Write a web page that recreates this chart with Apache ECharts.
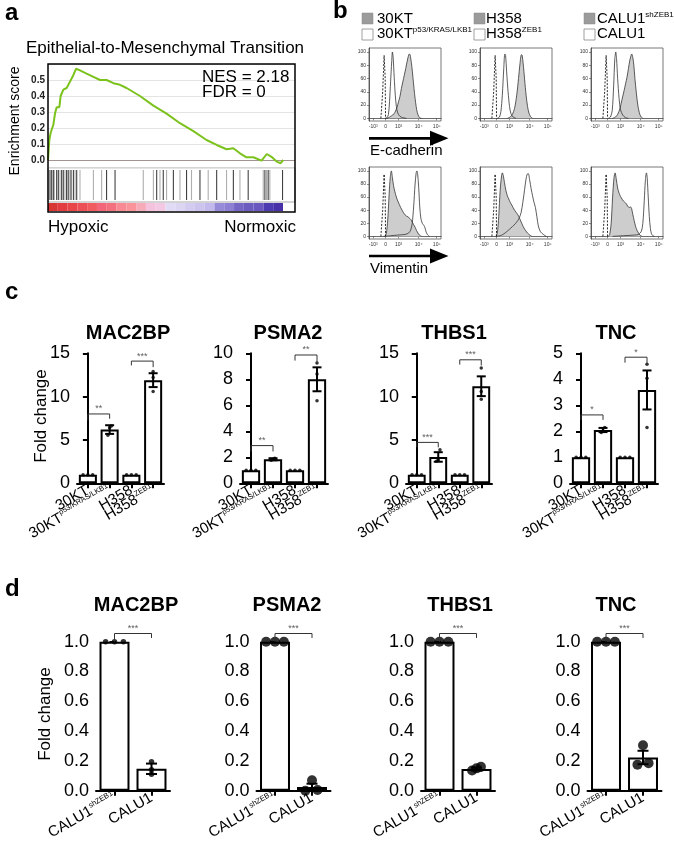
<!DOCTYPE html>
<html>
<head>
<meta charset="utf-8">
<title>EMT figure</title>
<script src="https://cdn.jsdelivr.net/npm/echarts@6.0.0/dist/echarts.min.js"></script>
<style>
html,body{margin:0;padding:0;background:#ffffff;}
#chart{width:674px;height:849px;}
</style>
</head>
<body>
<div id="chart"></div>
<script>
// ================= Panel a : GSEA enrichment plot =================
const esRank  = [0,0.57,1.13,2.27,2.97,3.68,4.82,5.38,6.52,7.93,9.35,10.76,11.9,13.6,16.4,19.3,22.1,24.9,27.8,30.6,33.4,39.1,44.8,50.4,56.1,61.8,67.4,71.7,75.9,78.8,81.6,84.4,87.3,90.8,93.0,95.0,97.2,98.9,100];
const esScore = [0,0.125,0.17,0.22,0.29,0.33,0.33,0.40,0.44,0.45,0.49,0.53,0.57,0.56,0.54,0.52,0.50,0.50,0.48,0.47,0.45,0.40,0.34,0.29,0.23,0.18,0.125,0.094,0.067,0.073,0.042,0.017,0.017,-0.004,0.0375,0.02,-0.01,-0.02,0.0];
const esTickValues = [0, 0.1, 0.2, 0.3, 0.4, 0.5];
const hitsBlack = [0.85,1.56,2.27,3.68,4.39,5.8,6.5,7.9,8.6,9.8,10.8,12.2,24.9,28.5,46.2,49.0,53.3,58.9,64.6,71.7,78.8,85.1,92.2,93.6,99.7];
const hitsGrey  = [2.69,5.1,7.2,9.3,11.5,13.6,19.3,22.8,40.5,44.8,47.6,50.4,56.1,61.0,68.1,75.9,81.6,91.5,92.9,94.3];
const colorBarColors = ['#d83535','#e23c40','#e84549','#ec4f55','#f05b60','#f3667a','#f3707f','#f78a92','#f8949a','#f7aab8','#f5c2de','#f3c8e3','#e2dbf5','#ddd6f3','#d3cbf0','#cdc4ee','#c3b9ec','#958bd9','#8d80d4','#7565c4','#6d5cc0','#6a57bf','#4c3bb0','#4830a8'];

// ================= Panel b : flow cytometry histograms =================
const histXTickValues = [6, 23, 41, 69, 94];
const histXTickLabels = ['-10³', '0', '10³', '10⁴', '10⁵'];
const histYTickValues = [0, 20, 40, 60, 80, 100];
const isotypeCtrl  = [[16.5,0],[19,40],[21,95],[22,97],[22.5,60],[23,0]];
const ecad30ktFill = [[24,0],[27,1],[30,3],[33,5],[36,9],[39,17],[41,25],[43,33],[45,45],[47,55],[49,65],[51,75],[53,86],[54.5,93],[56,97],[57,96],[58,90],[59.5,78],[61,62],[62.5,45],[64,30],[65.5,18],[67,9],[69,3],[71,0.5],[73,0]];
const ecad30ktOpen = [[22,0],[25,1],[27,6],[28.5,25],[30,55],[31.5,85],[32.5,100],[33.5,92],[35,62],[36.5,35],[38,18],[40,8],[43,3],[47,1],[52,0]];
const ecadH358Fill = [[38,0],[42,2],[45,6],[48,15],[51,35],[53.5,60],[55.5,82],[57.5,96],[58.5,95],[60,82],[62,58],[64,35],[66,18],[68,8],[70,3],[73,0]];
const ecadH358Open = [[24,0],[27,2],[29,10],[31,35],[33,75],[34.5,97],[35.5,95],[37,70],[39,40],[41,18],[43,7],[46,2],[50,0]];
const ecadCaluFill = [[30,0],[34,2],[37,6],[40,14],[43,28],[46,42],[48,52],[50,62],[52,75],[54,88],[55.5,94],[56.5,97],[58,92],[59.5,80],[61,60],[63,38],[65,20],[67,9],[69,3],[72,0]];
const ecadCaluOpen = [[24,0],[27,2],[29.5,12],[31.5,50],[33,88],[34.4,100],[35.5,90],[37,60],[39,30],[41,13],[44,5],[48,1],[52,0]];
const vim30ktFill  = [[22,0],[24,4],[26,25],[28,65],[29.5,90],[31,100],[32.5,90],[34,78],[36,68],[38,60],[40,54],[42,49],[44,44],[46,40],[48,36],[50,33],[52,31],[54,30],[56,28],[58,26],[60,22],[62,18],[64,14],[66,9],[68,5],[70,2],[73,0]];
const vim30ktOpen  = [[20,0],[30,1],[40,2],[50,3],[55,5],[58,10],[60,20],[62,45],[64,80],[65.5,97],[66.5,100],[67.5,96],[69,75],[70.5,45],[72,28],[74,20],[76,17],[77.5,14],[79,8],[81,3],[84,0]];
const vimH358Fill  = [[22,0],[24,5],[26,30],[28,70],[30,93],[31,97],[32.5,92],[34,82],[36,70],[38,62],[40,57],[42,52],[44,48],[46,44],[48,40],[50,37],[52,34],[54,30],[56,25],[58,20],[60,15],[62,11],[64,8],[66,5],[68,3],[72,0]];
const vimH358Open  = [[22,0],[28,1],[32,3],[38,8],[43,13],[47,17],[51,22],[54,27],[57,36],[59.5,52],[62,72],[64,88],[65.5,95],[67,96],[69,86],[71,73],[73,62],[75,52],[77,44],[79,30],[81,16],[84,7],[88,3],[92,0]];
const vimCaluFill  = [[24,0],[26,3],[28,20],[30,60],[32,90],[33.5,97],[35,88],[37,74],[39,66],[41,61],[43,57],[45,54],[47,52],[49,50],[51,46],[53,44],[55,45],[56.5,42],[58,34],[60,24],[62,15],[64,9],[66,5],[68,2],[71,0]];
const vimCaluOpen  = [[30,0],[45,1],[60,2],[66,3],[70,8],[72,20],[74,55],[75.5,85],[77,97],[78,90],[79.5,60],[81,30],[82.5,12],[84,4],[86,1],[88,0]];

// ================= Panel c : fold change, 4 groups =================
const cCategories = ['30KT', '30KT p53/KRAS/LKB1', 'H358', 'H358 ZEB1'];
const cLabelBase  = ['30KT', '30KT', 'H358', 'H358'];
const cLabelSup   = ['', 'p53/KRAS/LKB1', '', 'ZEB1'];
const cYMax = [15, 10, 15, 5];
const cYInterval = [5, 2, 5, 1];
const mac2bpMeanC = [1, 6.2, 1, 11.9];
const mac2bpSemC  = [0, 0.5, 0, 0.8];
const mac2bpDotsC = [[1,1,1],[5.55,6.4,6.6],[1,1,1],[10.6,12.2,12.9]];
const psma2MeanC  = [1, 1.85, 1, 8.0];
const psma2SemC   = [0, 0.08, 0, 0.92];
const psma2DotsC  = [[1,1,1],[1.78,1.85,1.92],[1,1,1],[6.35,8.4,9.25]];
const thbs1MeanC  = [1, 3.04, 1, 11.2];
const thbs1SemC   = [0, 0.55, 0, 1.14];
const thbs1DotsC  = [[1,1,1],[2.55,2.7,3.87],[1,1,1],[9.7,10.6,13.3]];
const tncMeanC    = [1, 2.05, 1, 3.59];
const tncSemC     = [0, 0.08, 0, 0.75];
const tncDotsC    = [[1,1,1],[1.95,2.02,2.15],[1,1,1],[2.15,4.04,4.58]];
const cDotOffsets = [[-0.22,0,0.22],[-0.08,0,0.08],[-0.22,0,0.22],[0,0,0]];
// brackets: [fromBar, toBar, top, leftLegEnd, rightLegEnd, stars]
const mac2bpSigC = [[0,1,8.0,7.25,7.45,'**'],[2,3,14.1,13.6,13.4,'***']];
const psma2SigC  = [[0,1,2.9,2.45,2.45,'**'],[2,3,9.87,9.44,9.25,'**']];
const thbs1SigC  = [[0,1,4.72,4.15,4.15,'***'],[2,3,14.25,13.7,13.6,'***']];
const tncSigC    = [[0,1,2.63,2.44,2.44,'*'],[2,3,4.85,4.64,4.62,'*']];

// ================= Panel d : fold change, CALU1 =================
const dCategories = ['CALU1 shZEB1', 'CALU1'];
const dLabelBase  = ['CALU1', 'CALU1'];
const dLabelSup   = ['shZEB1', ''];
const dYTicks = [0, 0.2, 0.4, 0.6, 0.8, 1.0];
const mac2bpMeanD = [1, 0.147];
const mac2bpSemD  = [0, 0.035];
const mac2bpDotsD = [[1,1,1],[0.11,0.14,0.195]];
const mac2bpDotXD = [[-0.24,0,0.24],[0,0,0]];
const psma2MeanD  = [1, 0.025];
const psma2SemD   = [0, 0.022];
const psma2DotsD  = [[1,1,1],[0.0,0.07,0.005]];
const psma2DotXD  = [[-0.24,0,0.24],[-0.18,0,0.15]];
const thbs1MeanD  = [1, 0.145];
const thbs1SemD   = [0, 0.01];
const thbs1DotsD  = [[1,1,1],[0.135,0.16,0.15]];
const thbs1DotXD  = [[-0.24,0,0.24],[-0.12,0.12,0]];
const tncMeanD    = [1, 0.223];
const tncSemD     = [0, 0.045];
const tncDotsD    = [[1,1,1],[0.175,0.305,0.185]];
const tncDotXD    = [[-0.24,0,0.24],[-0.15,0,0.15]];
const dSig = [[0,1,1.055,1.0,1.025,'***']];

// ================= building =================
const FONT = "'Liberation Sans', Arial, Helvetica, sans-serif";
const grids = [], xAxes = [], yAxes = [], series = [], graphics = [];
function push(arr, o) { arr.push(o); return arr.length - 1; }

function addText(x, y, text, o) {
  o = o || {};
  const style = {
    text: text, fill: o.color || '#000', fontSize: o.size || 14, fontWeight: o.weight || 'normal',
    fontFamily: FONT, align: o.align || 'left', verticalAlign: o.va || 'middle',
    textAlign: o.align || 'left', textVerticalAlign: o.va || 'middle'
  };
  if (o.rich) style.rich = o.rich;
  graphics.push({ type: 'text', x: x, y: y, rotation: o.rot || 0, z: 100, silent: true, style: style });
}

// ---------- panel a ----------
const gEs = push(grids, { left: 48, top: 64, width: 247, height: 104 });
const xEs = push(xAxes, { gridIndex: gEs, type: 'value', min: 0, max: 105, axisLine: {show:false}, axisTick: {show:false}, axisLabel: {show:false}, splitLine: {show:false} });
const yEs = push(yAxes, { gridIndex: gEs, type: 'value', min: -0.05, max: 0.6,
  axisLine: {show:false}, axisTick: {show:false},
  axisLabel: { customValues: esTickValues, formatter: v => v.toFixed(1), fontSize: 10, fontWeight: 'bold', color: '#222', margin: 3 },
  splitLine: { show: true, lineStyle: { color: '#e4e4e4', width: 1 } } });
series.push({ type: 'line', xAxisIndex: xEs, yAxisIndex: yEs, data: esRank.map((r, i) => [r, esScore[i]]),
  showSymbol: false, lineStyle: { color: '#7cc21d', width: 2 }, z: 5, silent: true,
  markLine: { silent: true, symbol: 'none', label: {show:false}, lineStyle: { color: '#a3948f', type: 'solid', width: 1 }, data: [{ yAxis: 0 }] } });

const gHit = push(grids, { left: 48, top: 168, width: 247, height: 34, show: true, borderColor: '#a8a8a8', borderWidth: 1 });
const xHit = push(xAxes, { gridIndex: gHit, type: 'value', min: 0, max: 105, show: false });
const yHit = push(yAxes, { gridIndex: gHit, type: 'value', min: 0, max: 1, show: false });
series.push({ type: 'scatter', xAxisIndex: xHit, yAxisIndex: yHit, data: hitsGrey.map(h => [h, 0.5]), symbol: 'rect', symbolSize: [1.1, 30], itemStyle: { color: '#9a9a9a' }, silent: true });
series.push({ type: 'scatter', xAxisIndex: xHit, yAxisIndex: yHit, data: hitsBlack.map(h => [h, 0.5]), symbol: 'rect', symbolSize: [1.1, 30], itemStyle: { color: '#111' }, silent: true });

const gCb = push(grids, { left: 48, top: 203, width: 235, height: 8 });
const xCb = push(xAxes, { gridIndex: gCb, type: 'category', data: colorBarColors.map((c, i) => 's' + i), show: false });
const yCb = push(yAxes, { gridIndex: gCb, type: 'value', min: 0, max: 1, show: false });
series.push({ type: 'bar', xAxisIndex: xCb, yAxisIndex: yCb, data: colorBarColors.map(c => ({ value: 1, itemStyle: { color: c } })), barCategoryGap: '0%', silent: true });

graphics.push({ type: 'rect', z: 100, silent: true, shape: { x: 48, y: 64, width: 247, height: 148 }, style: { fill: 'none', stroke: '#000', lineWidth: 1.5 } });
addText(5, 13, 'a', { size: 24, weight: 'bold' });
addText(165, 48, 'Epithelial-to-Mesenchymal Transition', { size: 17, align: 'center' });
addText(202, 77.5, 'NES = 2.18', { size: 17 });
addText(202, 92.5, 'FDR = 0', { size: 17 });
addText(48, 227, 'Hypoxic', { size: 17 });
addText(296, 227, 'Normoxic', { size: 17, align: 'right' });
addText(15, 121, 'Enrichment score', { size: 14, align: 'center', rot: Math.PI / 2 });

// ---------- panel b ----------
addText(333, 11, 'b', { size: 24, weight: 'bold' });
const legRich = {
  a: { fontSize: 15, fontFamily: FONT, color: '#000', lineHeight: 16 },
  s: { fontSize: 8, fontFamily: FONT, color: '#000', verticalAlign: 'top' }
};
const legendCols = [
  { sq: 362, tx: 377, fill: '{a|30KT}', open: '{a|30KT}{s|p53/KRAS/LKB1}' },
  { sq: 474, tx: 486, fill: '{a|H358}', open: '{a|H358}{s|ZEB1}' },
  { sq: 584, tx: 597, fill: '{a|CALU1}{s|shZEB1}', open: '{a|CALU1}' }
];
legendCols.forEach(L => {
  graphics.push({ type: 'rect', z: 100, silent: true, shape: { x: L.sq, y: 13, width: 11, height: 11 }, style: { fill: '#9b9b9b', stroke: '#8a8a8a', lineWidth: 0.5 } });
  graphics.push({ type: 'rect', z: 100, silent: true, shape: { x: L.sq, y: 29, width: 11, height: 11 }, style: { fill: '#fff', stroke: '#888', lineWidth: 0.8 } });
  addText(L.tx, 18.5, L.fill, { rich: legRich });
  addText(L.tx, 34, L.open, { rich: legRich });
});

const histFill = [[ecad30ktFill, ecadH358Fill, ecadCaluFill], [vim30ktFill, vimH358Fill, vimCaluFill]];
const histOpen = [[ecad30ktOpen, ecadH358Open, ecadCaluOpen], [vim30ktOpen, vimH358Open, vimCaluOpen]];
const histTop = [48, 167], histHeight = [73, 72], histLeft = [369, 480, 591], histWidth = 72;
for (let r = 0; r < 2; r++) {
  for (let c = 0; c < 3; c++) {
    const g = push(grids, { left: histLeft[c], top: histTop[r], width: histWidth, height: histHeight[r], show: true, borderColor: '#555', borderWidth: 0.8 });
    const x = push(xAxes, { gridIndex: g, type: 'value', min: 0, max: 100,
      axisLine: { show: true, lineStyle: { color: '#444', width: 0.8 } },
      axisTick: { show: true, customValues: histXTickValues, length: 2, lineStyle: { color: '#444', width: 0.6 } },
      axisLabel: { customValues: histXTickValues, formatter: v => histXTickLabels[histXTickValues.indexOf(v)], fontSize: 5, color: '#333', margin: 3 },
      splitLine: { show: false } });
    const y = push(yAxes, { gridIndex: g, type: 'value', min: -4, max: 106,
      axisLine: { show: true, lineStyle: { color: '#444', width: 0.8 } },
      axisTick: { show: true, customValues: histYTickValues, length: 2, lineStyle: { color: '#444', width: 0.6 } },
      axisLabel: { customValues: histYTickValues, fontSize: 5, color: '#333', margin: 3 },
      splitLine: { show: false } });
    series.push({ type: 'line', xAxisIndex: x, yAxisIndex: y, data: histFill[r][c], smooth: 0.3, showSymbol: false, silent: true,
      lineStyle: { color: '#333', width: 0.8 }, areaStyle: { color: '#cdcdcd', opacity: 1 }, z: 2 });
    series.push({ type: 'line', xAxisIndex: x, yAxisIndex: y, data: histOpen[r][c], smooth: 0.3, showSymbol: false, silent: true,
      lineStyle: { color: '#333', width: 0.8 }, z: 3 });
    series.push({ type: 'line', xAxisIndex: x, yAxisIndex: y, data: isotypeCtrl, showSymbol: false, silent: true,
      lineStyle: { color: '#111', width: 0.9, type: [2, 1.5] }, z: 4 });
  }
}
function arrow(y, label) {
  graphics.push({ type: 'line', z: 100, silent: true, shape: { x1: 369, y1: y, x2: 434, y2: y }, style: { stroke: '#000', lineWidth: 2.7 } });
  graphics.push({ type: 'polygon', z: 100, silent: true, shape: { points: [[430, y - 7.5], [448.5, y], [430, y + 7.5]] }, style: { fill: '#000' } });
  addText(370, y + 12.5, label, { size: 15 });
}
arrow(138.3, 'E-cadherin');
arrow(256, 'Vimentin');

// ---------- bar panels (c, d) ----------
function errRender(cap) {
  return function (params, api) {
    const x = api.value(0), m = api.value(1), s = api.value(2);
    if (!s) return null;
    const t = api.coord([x, m + s]), b = api.coord([x, m - s]);
    const st = { stroke: '#000', lineWidth: 2 };
    return { type: 'group', children: [
      { type: 'line', shape: { x1: t[0], y1: t[1], x2: b[0], y2: b[1] }, style: st },
      { type: 'line', shape: { x1: t[0] - cap, y1: t[1], x2: t[0] + cap, y2: t[1] }, style: st },
      { type: 'line', shape: { x1: b[0] - cap, y1: b[1], x2: b[0] + cap, y2: b[1] }, style: st }
    ] };
  };
}
const axisRich = {
  b: { fontSize: 15, fontFamily: FONT, color: '#000', lineHeight: 17 },
  s: { fontSize: 7.5, fontFamily: FONT, color: '#000', verticalAlign: 'top' }
};
function barPanel(cfg) {
  const n = cfg.mean.length;
  const g = push(grids, { left: cfg.left, top: cfg.top, width: cfg.width, height: cfg.height });
  const xc = push(xAxes, { gridIndex: g, type: 'category', data: cfg.cats, boundaryGap: true,
    axisLine: { show: true, lineStyle: { color: '#000', width: 2 } },
    axisTick: { show: true, alignWithLabel: true, length: 5, lineStyle: { color: '#000', width: 2 } },
    axisLabel: { interval: 0, rotate: 30, margin: 6, rich: axisRich,
      formatter: (v, i) => cfg.sup[i] ? '{b|' + cfg.base[i] + '}{s|' + cfg.sup[i] + '}' : '{b|' + cfg.base[i] + '}' },
    splitLine: { show: false } });
  const xv = push(xAxes, { gridIndex: g, type: 'value', min: -0.5, max: n - 0.5, show: false });
  const yOpt = { gridIndex: g, type: 'value', min: 0, max: cfg.yMax,
    axisLine: { show: true, lineStyle: { color: '#000', width: 2 } },
    axisTick: { show: true, length: 5, lineStyle: { color: '#000', width: 2 } },
    axisLabel: { fontSize: 18, color: '#000', margin: 7, formatter: cfg.fmt },
    splitLine: { show: false } };
  if (cfg.yTicks) { yOpt.axisLabel.customValues = cfg.yTicks; yOpt.axisTick.customValues = cfg.yTicks; }
  else { yOpt.interval = cfg.yInt; }
  const y = push(yAxes, yOpt);
  series.push({ type: 'bar', xAxisIndex: xc, yAxisIndex: y, data: cfg.mean, barCategoryGap: cfg.gap, silent: true,
    itemStyle: { color: '#fff', borderColor: '#000', borderWidth: 2 }, z: 2 });
  series.push({ type: 'custom', xAxisIndex: xv, yAxisIndex: y, data: cfg.mean.map((m, i) => [i, m, cfg.sem[i]]),
    renderItem: errRender(cfg.cap), z: 4, clip: false, silent: true });
  const pts = [];
  cfg.dots.forEach((arr, i) => arr.forEach((v, k) => pts.push([i + cfg.dotX[i][k], v])));
  series.push({ type: 'scatter', xAxisIndex: xv, yAxisIndex: y, data: pts, symbolSize: cfg.dotSize, clip: false, silent: true,
    itemStyle: { color: '#000' }, z: 5 });
  cfg.sig.forEach(s => {
    series.push({ type: 'line', xAxisIndex: xv, yAxisIndex: y, data: [[s[0], s[3]], [s[0], s[2]], [s[1], s[2]], [s[1], s[4]]],
      showSymbol: false, symbol: 'none', clip: false, silent: true, lineStyle: { color: '#333', width: 1 }, z: 6 });
    series.push({ type: 'scatter', xAxisIndex: xv, yAxisIndex: y, data: [{ value: [(s[0] + s[1]) / 2, s[2]], label: { formatter: s[5] } }],
      symbolSize: 1, clip: false, silent: true, itemStyle: { color: 'rgba(0,0,0,0)' }, z: 6,
      label: { show: true, position: 'top', distance: 0, fontSize: 9, color: '#333', fontFamily: FONT } });
  });
  addText(cfg.titleX, cfg.titleY, cfg.title, { size: 20, weight: 'bold', align: 'center' });
}

addText(5, 292, 'c', { size: 24, weight: 'bold' });
addText(41, 416, 'Fold change', { size: 17, align: 'center', rot: Math.PI / 2 });
const cData = [
  { title: 'MAC2BP', mean: mac2bpMeanC, sem: mac2bpSemC, dots: mac2bpDotsC, sig: mac2bpSigC },
  { title: 'PSMA2',  mean: psma2MeanC,  sem: psma2SemC,  dots: psma2DotsC,  sig: psma2SigC },
  { title: 'THBS1',  mean: thbs1MeanC,  sem: thbs1SemC,  dots: thbs1DotsC,  sig: thbs1SigC },
  { title: 'TNC',    mean: tncMeanC,    sem: tncSemC,    dots: tncDotsC,    sig: tncSigC }
];
const cLeft = [77, 240, 406, 570], cWidth = [87, 88, 86, 88], cTitleX = [128, 288, 454, 616];
cData.forEach((d, i) => barPanel(Object.assign({}, d, {
  left: cLeft[i], top: 353.3, width: cWidth[i], height: 130, cats: cCategories, base: cLabelBase, sup: cLabelSup,
  yMax: cYMax[i], yInt: cYInterval[i], fmt: v => String(v), gap: '17%', cap: 4.5, dotSize: 3.5, dotX: cDotOffsets,
  titleX: cTitleX[i], titleY: 333
})));

addText(5, 589, 'd', { size: 24, weight: 'bold' });
addText(45, 714, 'Fold change', { size: 17, align: 'center', rot: Math.PI / 2 });
const dData = [
  { title: 'MAC2BP', mean: mac2bpMeanD, sem: mac2bpSemD, dots: mac2bpDotsD, dotX: mac2bpDotXD, dotSize: 5.5 },
  { title: 'PSMA2',  mean: psma2MeanD,  sem: psma2SemD,  dots: psma2DotsD,  dotX: psma2DotXD,  dotSize: 10 },
  { title: 'THBS1',  mean: thbs1MeanD,  sem: thbs1SemD,  dots: thbs1DotsD,  dotX: thbs1DotXD,  dotSize: 10 },
  { title: 'TNC',    mean: tncMeanD,    sem: tncSemD,    dots: tncDotsD,    dotX: tncDotXD,    dotSize: 10 }
];
const dLeft = [96, 256.5, 421, 587.5], dTitleX = [136, 287, 460, 616];
dData.forEach((d, i) => barPanel(Object.assign({}, d, {
  left: dLeft[i], top: 641.7, width: 74, height: 149, cats: dCategories, base: dLabelBase, sup: dLabelSup,
  yMax: 1.0, yTicks: dYTicks, fmt: v => v.toFixed(1), gap: '19%', cap: 5.5, sig: dSig,
  titleX: dTitleX[i], titleY: 605
})));

const chart = echarts.init(document.getElementById('chart'), null, { renderer: 'canvas', width: 674, height: 849 });
chart.setOption({
  animation: false,
  backgroundColor: '#ffffff',
  textStyle: { fontFamily: FONT },
  grid: grids, xAxis: xAxes, yAxis: yAxes, series: series,
  graphic: { elements: graphics }
});
</script>
</body>
</html>
